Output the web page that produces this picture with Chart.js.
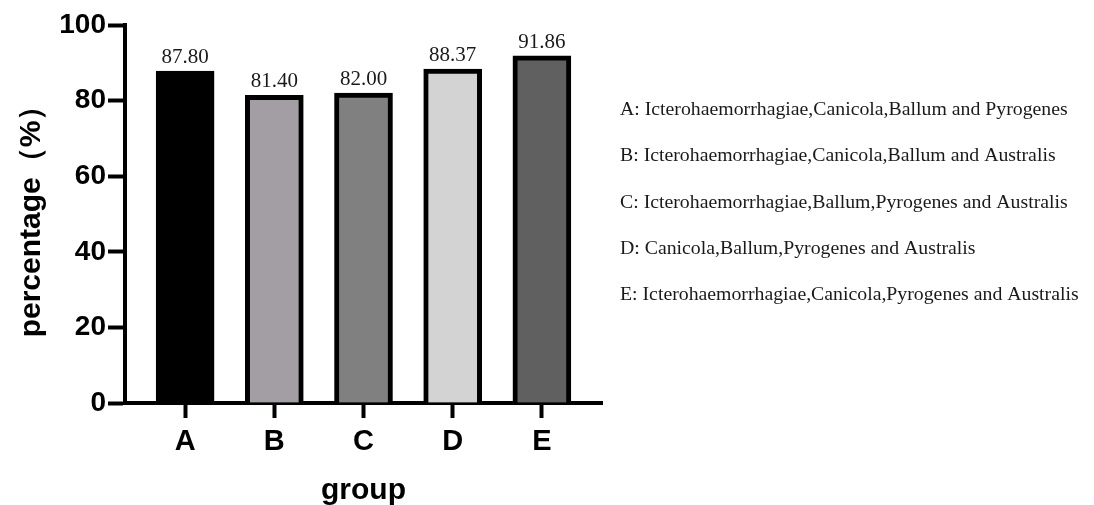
<!DOCTYPE html>
<html>
<head>
<meta charset="utf-8">
<style>
  html, body { margin: 0; padding: 0; background: #fff; }
  #wrap { width: 1094px; height: 505px; position: relative; }
</style>
<script src="https://cdn.jsdelivr.net/npm/chart.js@4.4.1/dist/chart.umd.min.js"></script>
</head>
<body>
<div id="wrap"><canvas id="bar-chart" width="1094" height="505"></canvas></div>
<script>
// data
const groups = ['A', 'B', 'C', 'D', 'E'];
const percentages = [87.80, 81.40, 82.00, 88.37, 91.86];
const barColors = ['#000000', '#a39ea3', '#808080', '#d3d3d3', '#606060'];
const legendLines = [
    'A: Icterohaemorrhagiae,Canicola,Ballum and Pyrogenes',
    'B: Icterohaemorrhagiae,Canicola,Ballum and Australis',
    'C: Icterohaemorrhagiae,Ballum,Pyrogenes and Australis',
    'D: Canicola,Ballum,Pyrogenes and Australis',
    'E: Icterohaemorrhagiae,Canicola,Pyrogenes and Australis'
];
const yTicks = [0, 20, 40, 60, 80, 100];

const sansBold = { family: 'Liberation Sans, Arial, sans-serif', weight: 'bold' };

// labels above bars
const valueLabels = {
    id: 'valueLabels',
    afterDatasetsDraw(chart) {
        const ctx = chart.ctx;
        const meta = chart.getDatasetMeta(0);
        ctx.save();
        ctx.font = '21px "Liberation Serif", "Times New Roman", serif';
        ctx.fillStyle = '#1a1a1a';
        ctx.textAlign = 'center';
        ctx.textBaseline = 'bottom';
        meta.data.forEach((bar, i) => {
            ctx.fillText(percentages[i].toFixed(2), bar.x, bar.y - 3);
        });
        ctx.restore();
    }
};

// text legend on the right
const sideLegend = {
    id: 'sideLegend',
    afterDraw(chart) {
        const ctx = chart.ctx;
        ctx.save();
        ctx.font = '19.8px "Liberation Serif", "Times New Roman", serif';
        ctx.fillStyle = '#1a1a1a';
        ctx.textAlign = 'left';
        ctx.textBaseline = 'middle';
        legendLines.forEach((line, i) => {
            ctx.fillText(line, 620, 110 + i * 46.2);
        });
        ctx.restore();
    }
};

new Chart(document.getElementById('bar-chart'), {
    type: 'bar',
    data: {
        datasets: [{
            data: percentages.map((v, i) => ({ x: i, y: v })),
            backgroundColor: barColors,
            borderColor: '#000',
            borderWidth: 5,
            barThickness: 58
        }]
    },
    options: {
        responsive: false,
        devicePixelRatio: 1,
        animation: false,
        layout: { padding: { top: 25, right: 492, left: 8, bottom: 0 } },
        plugins: { legend: { display: false }, tooltip: { enabled: false } },
        scales: {
            x: {
                type: 'linear',
                offset: false,
                min: -0.674,
                max: 4.674,
                afterBuildTicks: (scale) => { scale.ticks = groups.map((g, i) => ({ value: i })); },
                afterFit: (scale) => { scale.height = 102; },
                border: { color: '#000', width: 4 },
                grid: { offset: false, drawOnChartArea: false, tickLength: 15, tickWidth: 4, tickColor: '#000' },
                ticks: {
                    color: '#000',
                    padding: 7,
                    font: { ...sansBold, size: 29 },
                    callback: (v) => groups[v]
                },
                title: {
                    display: true,
                    text: 'group',
                    color: '#000',
                    font: { ...sansBold, size: 30 },
                    padding: { top: 16, bottom: -4 }
                }
            },
            y: {
                min: 0,
                max: 100,
                afterBuildTicks: (scale) => { scale.ticks = yTicks.map(v => ({ value: v })); },
                afterFit: (scale) => { scale.width = 117; },
                border: { color: '#000', width: 4 },
                grid: { drawOnChartArea: false, tickLength: 17, tickWidth: 4, tickColor: '#000' },
                ticks: {
                    color: '#000',
                    padding: 2,
                    font: { ...sansBold, size: 28 }
                },
                title: {
                    display: true,
                    text: 'percentage（%）',
                    color: '#000',
                    font: { ...sansBold, size: 30 },
                    padding: { top: 6, bottom: 0 }
                }
            }
        }
    },
    plugins: [valueLabels, sideLegend]
});
</script>
</body>
</html>
